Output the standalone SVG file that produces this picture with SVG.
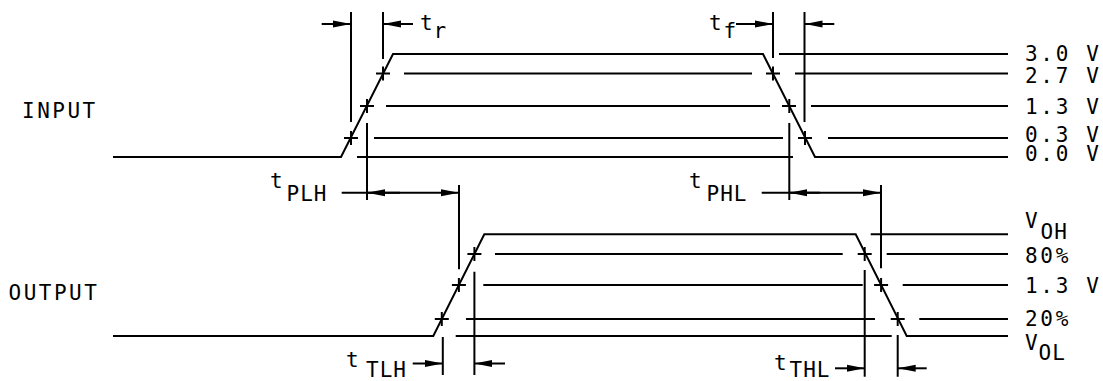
<svg xmlns="http://www.w3.org/2000/svg" width="1103" height="381" viewBox="0 0 1103 381">
<style>
.ln{stroke:#000;stroke-width:2;fill:none;stroke-linecap:butt}
.tx{font-family:"DejaVu Sans Mono","Liberation Mono",monospace;font-size:21px;fill:#000;letter-spacing:2px}
.big{letter-spacing:2.5px}
.lbl{letter-spacing:2.7px}
.sub{letter-spacing:1px}
</style>
<defs>
<marker id="ah" viewBox="0 0 18 8" refX="18" refY="4" markerWidth="18" markerHeight="8" markerUnits="userSpaceOnUse" orient="auto">
<path d="M0,0.5 L18,4 L0,7.5 z" fill="#000"/>
</marker>
</defs>
<rect width="1103" height="381" fill="#fff"/>

<g id="input-wave">
<path class="ln" d="M113,157 L341,157 L393,54 L763,54 L815,157 L1008,157"/>
<path class="ln" d="M376,73.5 H390 M383,66.5 V80.5 M360,106 H374 M367,99 V113 M344,138 H358 M351,131 V145 M766,73.5 H780 M773,66.5 V80.5 M782,106 H796 M789.3,99 V113 M798,138 H812 M805,131 V145"/>
</g>

<g id="input-levels">
<path class="ln" d="M779,54 H1008 M404,73.5 H752 M795,73.5 H1008 M386,106 H770 M811,106 H1008 M374,138 H783 M828,138 H1008 M357,157 H793"/>
</g>

<g id="output-wave">
<path class="ln" d="M113,336 L433.3,336 L484.3,234.3 L855.7,234.3 L906.7,336 L1008,336"/>
<path class="ln" d="M467.4,254 H481.4 M474.4,247 V261 M451.9,285 H465.9 M458.9,278 V292 M434.8,319 H448.8 M441.8,312 V326 M857.7,254 H871.7 M864.7,247 V261 M874.1,285 H888.1 M881.1,278 V292 M890.7,319 H904.7 M897.7,312 V326"/>
</g>

<g id="output-levels">
<path class="ln" d="M870.7,234.3 H1008 M495,254 H842.7 M886.7,254 H1008 M483.3,285 H862.7 M902.7,285 H1008 M466,319 H875 M919.3,319 H1008 M455.7,336 H891.7"/>
</g>

<g id="connectors">
<path class="ln" d="M351,12 V122 M383,12 V59 M367,123 V200 M773,12 V58 M804.5,12 V122 M789.3,123 V200"/>
<path class="ln" d="M459,185 V269.3 M474.4,271.7 V375 M442.8,337 V375 M881,185 V268.3 M864.7,270 V376.7 M897.7,335 V376.7"/>
<line class="ln" x1="321.7" y1="24" x2="351" y2="24" marker-end="url(#ah)"/>
<line class="ln" x1="413" y1="24" x2="383" y2="24" marker-end="url(#ah)"/>
<line class="ln" x1="736" y1="24" x2="773" y2="24" marker-end="url(#ah)"/>
<line class="ln" x1="834.3" y1="24" x2="804.5" y2="24" marker-end="url(#ah)"/>
<line class="ln" x1="341.7" y1="192.7" x2="459" y2="192.7" marker-end="url(#ah)"/>
<line class="ln" x1="400" y1="192.7" x2="367" y2="192.7" marker-end="url(#ah)"/>
<line class="ln" x1="761.7" y1="192.7" x2="881" y2="192.7" marker-end="url(#ah)"/>
<line class="ln" x1="820" y1="192.7" x2="789.3" y2="192.7" marker-end="url(#ah)"/>
<line class="ln" x1="412.7" y1="363.5" x2="442.8" y2="363.5" marker-end="url(#ah)"/>
<line class="ln" x1="505" y1="363.5" x2="474.4" y2="363.5" marker-end="url(#ah)"/>
<line class="ln" x1="835" y1="368.3" x2="864.7" y2="368.3" marker-end="url(#ah)"/>
<line class="ln" x1="926.7" y1="368.3" x2="897.7" y2="368.3" marker-end="url(#ah)"/>
</g>

<g id="labels-left">
<text class="tx big" x="22" y="118">INPUT</text>
<text class="tx big" x="8.5" y="300">OUTPUT</text>
</g>

<g id="labels-timing">
<text class="tx" x="420" y="30">t</text><text class="tx sub" x="433.5" y="38">r</text>
<text class="tx" x="709" y="30">t</text><text class="tx sub" x="723.5" y="38">f</text>
<text class="tx" x="270" y="188.3">t</text><text class="tx sub" x="286.5" y="201">PLH</text>
<text class="tx" x="689" y="188.3">t</text><text class="tx sub" x="706.5" y="201">PHL</text>
<text class="tx" x="346" y="366.7">t</text><text class="tx sub" x="366" y="376.5">TLH</text>
<text class="tx" x="774" y="369.5">t</text><text class="tx sub" x="789.5" y="376.5">THL</text>
</g>

<g id="labels-right">
<text class="tx lbl" x="1025" y="60.7">3.0 V</text>
<text class="tx lbl" x="1025" y="82.7">2.7 V</text>
<text class="tx lbl" x="1025" y="114">1.3 V</text>
<text class="tx lbl" x="1025" y="141.5">0.3 V</text>
<text class="tx lbl" x="1025" y="161">0.0 V</text>
<text class="tx" x="1025" y="228">V</text><text class="tx sub" x="1040.5" y="238.5">OH</text>
<text class="tx lbl" x="1025" y="263.3">80%</text>
<text class="tx lbl" x="1025" y="292.7">1.3 V</text>
<text class="tx lbl" x="1025" y="326">20%</text>
<text class="tx" x="1025" y="349.5">V</text><text class="tx sub" x="1038.5" y="360">OL</text>
</g>
</svg>
